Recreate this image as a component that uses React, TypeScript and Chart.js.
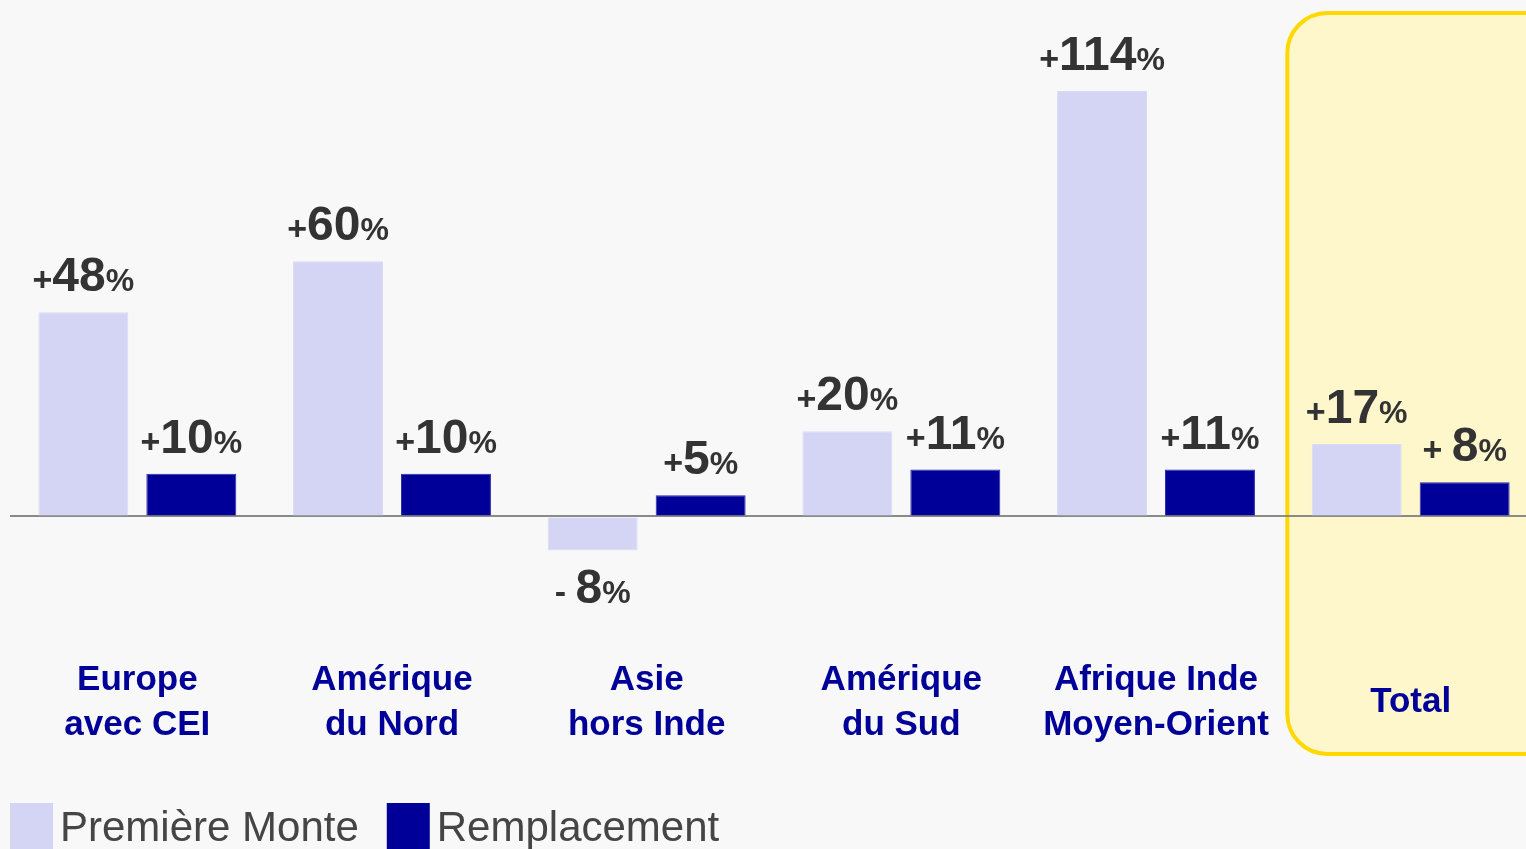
import React, { useEffect, useRef } from "react";
import { Chart, registerables } from "chart.js";

Chart.register(...registerables);

// ---------- data ----------
const categories: string[][] = [
  ["Europe", "avec CEI"],
  ["Amérique", "du Nord"],
  ["Asie", "hors Inde"],
  ["Amérique", "du Sud"],
  ["Afrique Inde", "Moyen-Orient"],
  ["Total"],
];
const seriesNames = ["Première Monte", "Remplacement"];
// bar heights as drawn in the picture (the +114% bar is truncated on the slide)
const premiereMonte = [48, 60, -8, 20, 100, 17];
const remplacement = [10, 10, 5, 11, 11, 8];
const premiereMonteLabels = ["+48%", "+60%", "- 8%", "+20%", "+114%", "+17%"];
const remplacementLabels = ["+10%", "+10%", "+5%", "+11%", "+11%", "+ 8%"];
const highlightIndex = 5;

// ---------- styles ----------
const FONT = '"Liberation Sans", Arial, Helvetica, sans-serif';
const LIGHT = "#d4d4f4";
const NAVY = "#000099";
const BG = "#f8f8f8";

function drawValueLabel(ctx: CanvasRenderingContext2D, text: string, cx: number, baseline: number) {
  const m = text.match(/^([^0-9]*)([0-9]+)(%?)$/);
  if (!m) return;
  const parts = [
    { t: m[1], f: `bold 34px ${FONT}` },
    { t: m[2], f: `bold 48px ${FONT}` },
    { t: m[3], f: `bold 32px ${FONT}` },
  ];
  let total = 0;
  const widths = parts.map((p) => {
    ctx.font = p.f;
    const w = ctx.measureText(p.t).width;
    total += w;
    return w;
  });
  let x = cx - total / 2;
  ctx.textAlign = "left";
  ctx.textBaseline = "alphabetic";
  ctx.fillStyle = "#333333";
  parts.forEach((p, i) => {
    ctx.font = p.f;
    ctx.fillText(p.t, x, baseline);
    x += widths[i];
  });
}

const highlightPlugin = {
  id: "highlightBox",
  beforeDraw(chart: any) {
    const x = chart.scales.x;
    const ctx: CanvasRenderingContext2D = chart.ctx;
    const catW = (x.right - x.left) / categories.length;
    const left = x.getPixelForValue(highlightIndex) - catW / 2 + 4;
    const top = 13;
    const bottom = 754;
    const right = left + 300;
    const r = 40;
    ctx.save();
    ctx.beginPath();
    ctx.moveTo(left + r, top);
    ctx.lineTo(right - r, top);
    ctx.arcTo(right, top, right, top + r, r);
    ctx.lineTo(right, bottom - r);
    ctx.arcTo(right, bottom, right - r, bottom, r);
    ctx.lineTo(left + r, bottom);
    ctx.arcTo(left, bottom, left, bottom - r, r);
    ctx.lineTo(left, top + r);
    ctx.arcTo(left, top, left + r, top, r);
    ctx.closePath();
    ctx.fillStyle = "#fff7cc";
    ctx.fill();
    ctx.lineWidth = 4;
    ctx.strokeStyle = "#ffd800";
    ctx.stroke();
    ctx.restore();
  },
};

const valueLabelPlugin = {
  id: "valueLabels",
  afterDatasetsDraw(chart: any) {
    const ctx: CanvasRenderingContext2D = chart.ctx;
    const labelSets = [premiereMonteLabels, remplacementLabels];
    ctx.save();
    chart.data.datasets.forEach((ds: any, di: number) => {
      const meta = chart.getDatasetMeta(di);
      meta.data.forEach((bar: any, i: number) => {
        const v = ds.data[i];
        const baseline = v >= 0 ? bar.y - 21 : bar.y + 53;
        drawValueLabel(ctx, labelSets[di][i], bar.x, baseline);
      });
    });
    ctx.restore();
  },
};

const legendPlugin = {
  id: "customLegend",
  afterDraw(chart: any) {
    const ctx: CanvasRenderingContext2D = chart.ctx;
    ctx.save();
    ctx.font = `42px ${FONT}`;
    ctx.textAlign = "left";
    ctx.textBaseline = "alphabetic";
    let x = 10;
    chart.data.datasets.forEach((ds: any) => {
      ctx.fillStyle = ds.backgroundColor;
      ctx.fillRect(x, 803, 43, 50);
      x += 43 + 7;
      ctx.fillStyle = "#454545";
      ctx.fillText(ds.label, x, 841);
      x += ctx.measureText(ds.label).width + 28;
    });
    ctx.restore();
  },
};

export default function App() {
  const ref = useRef<HTMLCanvasElement | null>(null);

  useEffect(() => {
    document.body.style.margin = "0";
    document.body.style.background = BG;
    const canvas = ref.current!;
    const chart = new Chart(canvas, {
      type: "bar",
      data: {
        labels: categories,
        datasets: [
          {
            label: seriesNames[0],
            data: premiereMonte,
            backgroundColor: LIGHT,
            borderColor: "#dadaf6",
            borderWidth: 1,
            categoryPercentage: 0.848,
            barPercentage: 0.833,
          },
          {
            label: seriesNames[1],
            data: remplacement,
            backgroundColor: NAVY,
            borderColor: "#2a2aa8",
            borderWidth: 1,
            categoryPercentage: 0.848,
            barPercentage: 0.833,
          },
        ],
      },
      options: {
        responsive: false,
        animation: false,
        devicePixelRatio: 1,
        layout: { padding: { left: 10, right: 2, top: 6, bottom: 43 } },
        plugins: {
          legend: { display: false },
          tooltip: { enabled: false },
        },
        scales: {
          x: {
            grid: { display: false, drawTicks: false },
            border: { display: false },
            ticks: {
              color: NAVY,
              font: { family: FONT, size: 35, weight: "bold", lineHeight: 45 / 35 },
              padding: 36,
              maxRotation: 0,
              minRotation: 0,
              autoSkip: false,
              crossAlign: "center",
            },
          },
          y: {
            min: -30,
            max: 120,
            border: { display: false },
            grid: {
              drawTicks: false,
              lineWidth: 2,
              color: (c: any) => (c.tick && c.tick.value === 0 ? "#8a8a8a" : "rgba(0,0,0,0)"),
            },
            ticks: { display: false, stepSize: 10 },
          },
        },
      },
      plugins: [highlightPlugin, valueLabelPlugin, legendPlugin],
    } as any);
    return () => chart.destroy();
  }, []);

  return (
    <div
      style={{
        position: "fixed",
        left: 0,
        top: 0,
        width: 1526,
        height: 849,
        overflow: "hidden",
        background: BG,
      }}
    >
      <canvas ref={ref} width={1540} height={849} style={{ width: 1540, height: 849, display: "block" }} />
    </div>
  );
}
